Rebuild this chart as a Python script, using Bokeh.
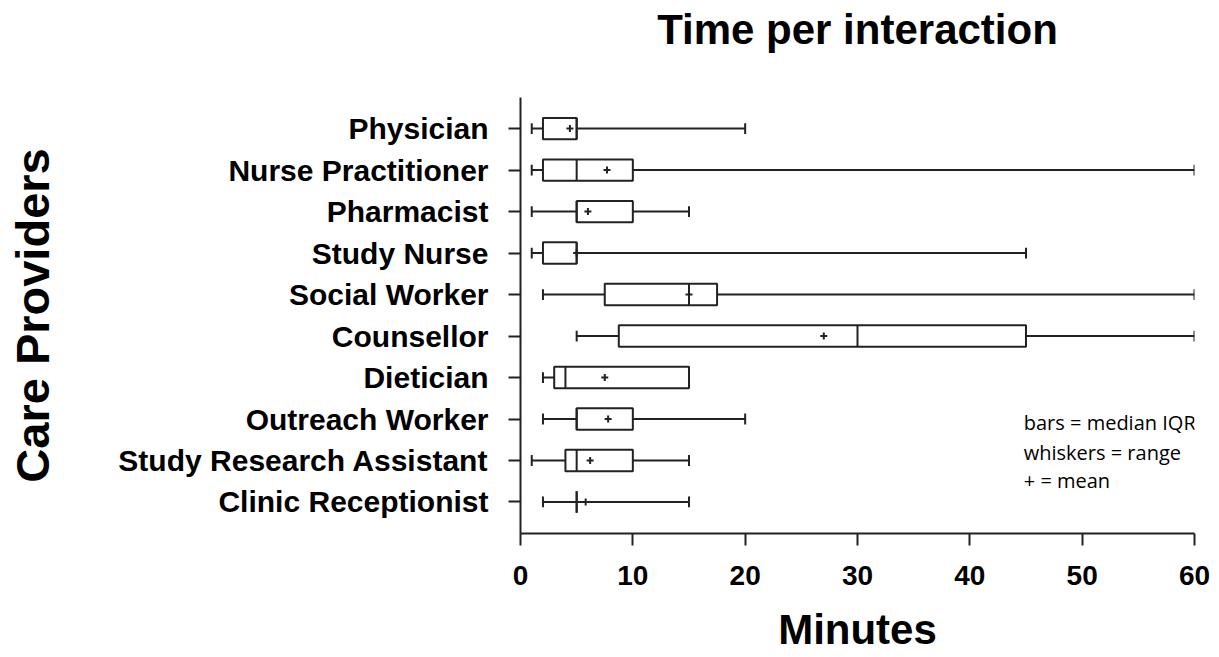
from bokeh.plotting import figure
from bokeh.models import ColumnDataSource, FixedTicker, Label, LinearAxis
from bokeh.embed import file_html
from bokeh.resources import INLINE

categories = ["Physician", "Nurse Practitioner", "Pharmacist", "Study Nurse", "Social Worker",
              "Counsellor", "Dietician", "Outreach Worker", "Study Research Assistant", "Clinic Receptionist"]
mins    = [1, 1, 1, 1, 2, 5, 2, 2, 1, 2]
q1      = [2, 2, 5, 2, 7.5, 8.75, 3, 5, 4, 5]
medians = [5, 5, 5, 5, 15, 30, 4, 5, 5, 5]
q3      = [5, 10, 10, 5, 17.5, 45, 15, 10, 10, 5]
maxs    = [20, 60, 15, 45, 60, 60, 15, 20, 15, 15]
means   = [4.4, 7.7, 6, 5, 15, 27, 7.5, 7.8, 6.2, 5.8]
x_ticks = [0, 10, 20, 30, 40, 50, 60]
title_text = "Time per interaction"
legend_lines = ["bars = median IQR", "whiskers = range", "+ = mean"]

n = len(categories)
ypos = [n - i for i in range(n)]
hb = 0.258  # half box height
hc = 0.13   # half cap height

src = ColumnDataSource(dict(
    y=ypos, lo=mins, q1=q1, med=medians, q3=q3, hi=maxs, mean=means,
    yb=[v - hb for v in ypos], yt=[v + hb for v in ypos],
    cb=[v - hc for v in ypos], ct=[v + hc for v in ypos],
))

p = figure(width=1214, height=655, x_range=(0, 60), y_range=(0.24, 10.75),
           output_backend="svg", toolbar_location=None,
           min_border_left=520, min_border_right=20, min_border_top=97, min_border_bottom=122)
p.outline_line_color = None
p.grid.visible = False
p.background_fill_color = "white"

col = "#222222"
lw = 2
# whiskers
p.segment(x0="lo", y0="y", x1="q1", y1="y", source=src, line_color=col, line_width=lw)
p.segment(x0="q3", y0="y", x1="hi", y1="y", source=src, line_color=col, line_width=lw)
# caps
p.segment(x0="lo", y0="cb", x1="lo", y1="ct", source=src, line_color=col, line_width=lw)
p.segment(x0="hi", y0="cb", x1="hi", y1="ct", source=src, line_color=col, line_width=lw)
# boxes
p.quad(left="q1", right="q3", bottom="yb", top="yt", source=src,
       fill_color="white", line_color=col, line_width=lw)
# medians
p.segment(x0="med", y0="yb", x1="med", y1="yt", source=src, line_color=col, line_width=lw)
# means
p.scatter(x="mean", y="y", source=src, marker="cross", size=7, line_color=col, line_width=2)

font = "Liberation Sans"
# x axis
xa = p.xaxis[0]
xa.ticker = FixedTicker(ticks=x_ticks)
xa.minor_tick_line_color = None
xa.major_tick_out = 12
xa.major_tick_in = 0
xa.axis_line_width = 2
xa.major_tick_line_width = 2
xa.axis_line_color = col
xa.major_tick_line_color = col
xa.major_label_text_font = font
xa.major_label_text_font_style = "bold"
xa.major_label_text_font_size = "28px"
xa.major_label_text_color = "black"
xa.major_label_standoff = 20
xa.axis_label = "Minutes"
xa.axis_label_text_font = font
xa.axis_label_text_font_style = "bold"
xa.axis_label_text_font_size = "42px"
xa.axis_label_text_color = "black"
xa.axis_label_standoff = 18

ya = p.yaxis[0]
ya.ticker = FixedTicker(ticks=ypos)
ya.major_label_overrides = {v: c for v, c in zip(ypos, categories)}
ya.minor_tick_line_color = None
ya.major_tick_out = 12
ya.major_tick_in = 0
ya.axis_line_width = 2
ya.major_tick_line_width = 2
ya.axis_line_color = col
ya.major_tick_line_color = col
ya.major_label_text_font = font
ya.major_label_text_font_style = "bold"
ya.major_label_text_font_size = "30px"
ya.major_label_text_color = "black"
ya.major_label_standoff = 20
ya.axis_label = "Care Providers"
ya.axis_label_text_font = font
ya.axis_label_text_font_style = "bold"
ya.axis_label_text_font_size = "47px"
ya.axis_label_text_color = "black"
ya.axis_label_standoff = 56

# title drawn as the label of a bare axis above the frame
ta = LinearAxis(ticker=FixedTicker(ticks=[]), axis_label=title_text,
                axis_line_color=None, major_tick_line_color=None, minor_tick_line_color=None,
                major_tick_out=0, major_tick_in=0, minor_tick_out=0,
                axis_label_text_font=font, axis_label_text_font_style="bold",
                axis_label_text_font_size="42px", axis_label_text_color="black",
                axis_label_standoff=45)
p.add_layout(ta, "above")

ly = [2.92, 2.19, 1.52]
for t, yv in zip(legend_lines, ly):
    p.add_layout(Label(x=44.8, y=yv, text=t, text_font="Open Sans", text_font_size="20px",
                       text_color="black", text_baseline="middle"))

open("out.html", "w").write(file_html(p, INLINE))
